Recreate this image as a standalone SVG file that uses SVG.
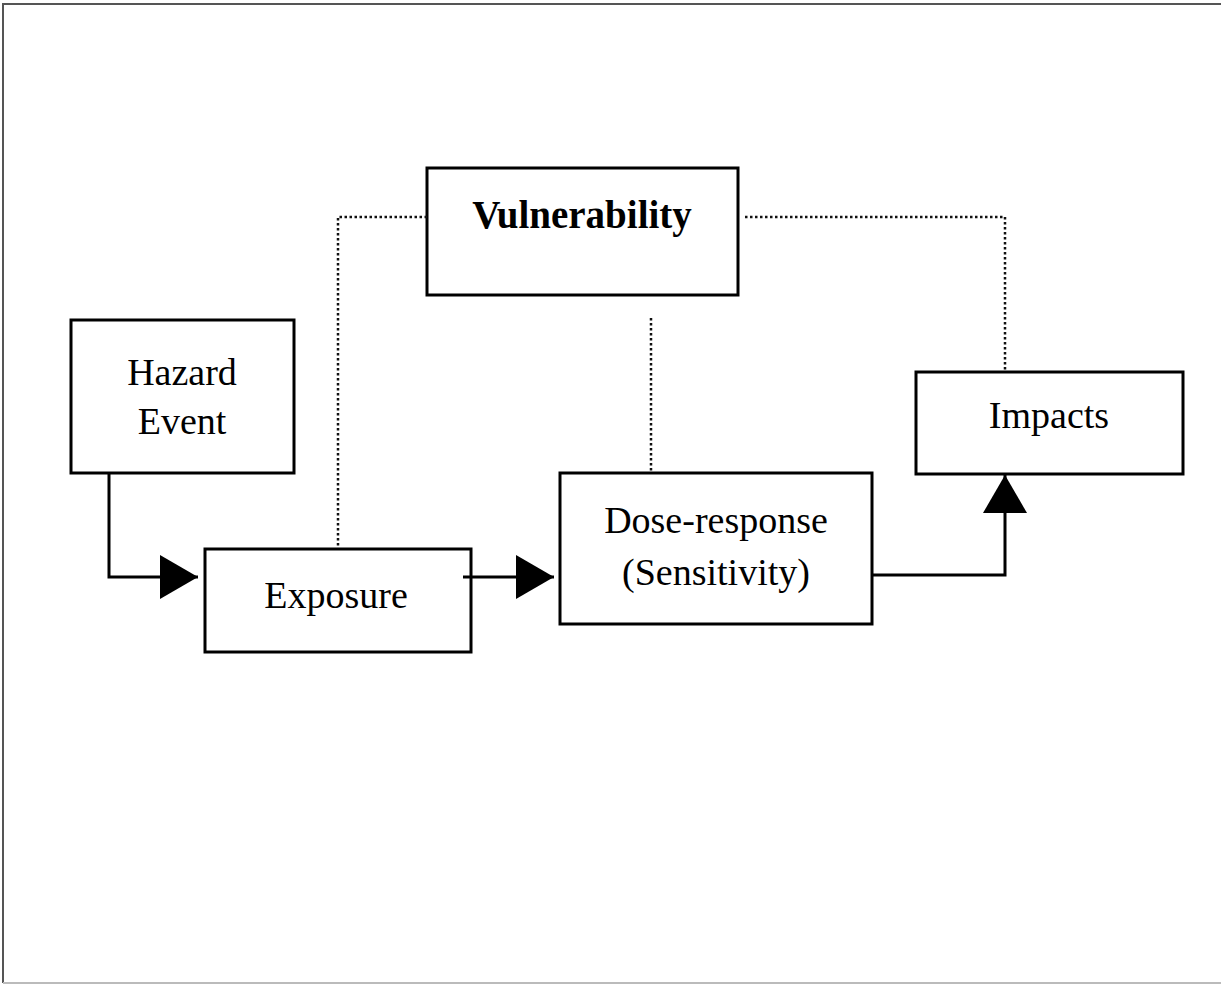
<svg xmlns="http://www.w3.org/2000/svg" width="1221" height="984" viewBox="0 0 1221 984">
<defs>
<style>
.box{fill:#fff;stroke:#000;stroke-width:3}
.t{font-family:"Liberation Serif","Times New Roman",serif;font-size:38px;fill:#000;text-anchor:middle}
.b{font-weight:bold;font-size:39px}
.ln{fill:none;stroke:#000;stroke-width:3}
.dot{fill:none;stroke:#111;stroke-width:2.5;stroke-dasharray:2.5 2.5}
</style>
<marker id="ah" markerUnits="userSpaceOnUse" markerWidth="40" markerHeight="44" refX="38" refY="22" orient="auto" viewBox="0 0 40 44">
<path d="M0,0 L38,22 L0,44 Z" fill="#000"/>
</marker>
</defs>
<rect x="0" y="0" width="1221" height="984" fill="#fff"/>
<g id="frame">
<line x1="3" y1="4" x2="1221" y2="4" stroke="#555" stroke-width="2"/>
<line x1="3" y1="3" x2="3" y2="983" stroke="#555" stroke-width="2"/>
<line x1="3" y1="983" x2="1221" y2="983" stroke="#bbb" stroke-width="2"/>
</g>
<g id="vulnerability">
<rect class="box" x="427" y="168" width="311" height="127"/>
<text class="t b" x="582" y="228">Vulnerability</text>
</g>
<g id="hazard">
<rect class="box" x="71" y="320" width="223" height="153"/>
<text class="t" x="182" y="385">Hazard</text>
<text class="t" x="182" y="434">Event</text>
</g>
<g id="exposure">
<rect class="box" x="205" y="549" width="266" height="103"/>
<text class="t" x="336" y="608">Exposure</text>
</g>
<g id="dose">
<rect class="box" x="560" y="473" width="312" height="151"/>
<text class="t" x="716" y="533">Dose-response</text>
<text class="t" x="716" y="585">(Sensitivity)</text>
</g>
<g id="impacts">
<rect class="box" x="916" y="372" width="267" height="102"/>
<text class="t" x="1049" y="428">Impacts</text>
</g>
<g id="connectors">
<path class="dot" d="M427,217 H338 V548"/>
<path class="dot" d="M745,217 H1005 V371"/>
<path class="dot" d="M651,318 V472"/>
<path class="ln" d="M109,474 V577 H198" marker-end="url(#ah)"/>
<path class="ln" d="M463,577 H554" marker-end="url(#ah)"/>
<path class="ln" d="M873,575 H1005 V475" marker-end="url(#ah)"/>
</g>
</svg>
